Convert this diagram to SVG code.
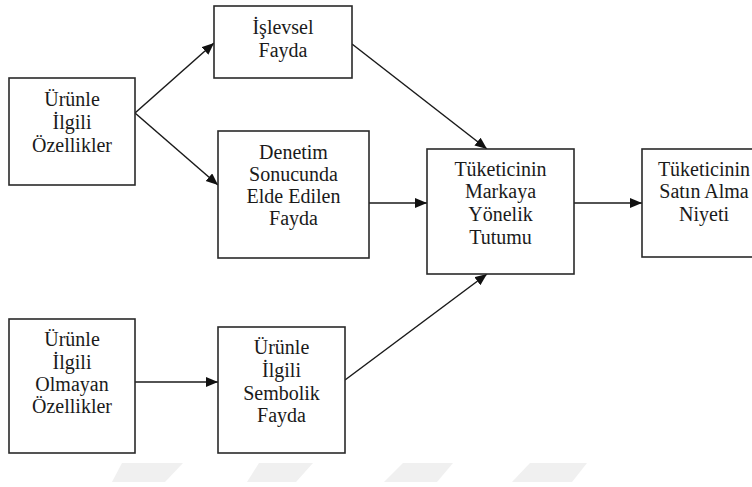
<svg xmlns="http://www.w3.org/2000/svg" width="752" height="487" viewBox="0 0 752 487">
  <defs>
    <marker id="arrow" markerUnits="userSpaceOnUse" markerWidth="14" markerHeight="12" refX="12" refY="5" orient="auto">
      <path d="M0,0 L12,5 L0,10 z" fill="#111"/>
    </marker>
    <style>
      .box { fill: #fff; stroke: #2a2a2a; stroke-width: 1.6; }
      .lbl { font-family: "Liberation Serif", "Times New Roman", serif; font-size: 20px; fill: #1a1a1a; text-anchor: middle; }
      .edge { stroke: #1a1a1a; stroke-width: 1.5; fill: none; marker-end: url(#arrow); }
      .wm { fill: #f0f0f0; }
    </style>
  </defs>
  <rect width="752" height="487" fill="#fff"/>

  <g id="watermark">
    <polygon class="wm" points="122,463 183,463 165,482 112,482"/>
    <polygon class="wm" points="259,463 313,463 296,482 247,482"/>
    <polygon class="wm" points="403,463 453,463 437,482 384,482"/>
    <polygon class="wm" points="530,463 587,463 572,482 512,482"/>
  </g>

  <g id="connectors">
    <line class="edge" x1="135" y1="113" x2="214" y2="43"/>
    <line class="edge" x1="135" y1="113" x2="218" y2="185"/>
    <line class="edge" x1="352" y1="44" x2="487" y2="149"/>
    <line class="edge" x1="369" y1="203" x2="427" y2="203"/>
    <line class="edge" x1="574" y1="203" x2="642" y2="203"/>
    <line class="edge" x1="135" y1="382" x2="218" y2="382"/>
    <line class="edge" x1="345" y1="380" x2="487" y2="274"/>
  </g>

  <g id="urunle-ilgili">
    <rect class="box" x="9" y="78" width="126" height="107"/>
    <text class="lbl" x="72" y="106">Ürünle</text>
    <text class="lbl" x="72" y="129">İlgili</text>
    <text class="lbl" x="72" y="152">Özellikler</text>
  </g>

  <g id="islevsel">
    <rect class="box" x="214" y="6" width="138" height="72"/>
    <text class="lbl" x="283" y="34">İşlevsel</text>
    <text class="lbl" x="283" y="57">Fayda</text>
  </g>

  <g id="denetim">
    <rect class="box" x="218" y="131" width="151" height="127"/>
    <text class="lbl" x="293.5" y="159">Denetim</text>
    <text class="lbl" x="293.5" y="181">Sonucunda</text>
    <text class="lbl" x="293.5" y="203">Elde Edilen</text>
    <text class="lbl" x="293.5" y="225">Fayda</text>
  </g>

  <g id="tutum">
    <rect class="box" x="427" y="149" width="147" height="125"/>
    <text class="lbl" x="500.5" y="176">Tüketicinin</text>
    <text class="lbl" x="500.5" y="198">Markaya</text>
    <text class="lbl" x="500.5" y="221">Yönelik</text>
    <text class="lbl" x="500.5" y="244">Tutumu</text>
  </g>

  <g id="niyet">
    <rect class="box" x="642" y="149" width="124" height="108"/>
    <text class="lbl" x="704" y="176">Tüketicinin</text>
    <text class="lbl" x="704" y="198">Satın Alma</text>
    <text class="lbl" x="704" y="221">Niyeti</text>
  </g>

  <g id="urunle-ilgili-olmayan">
    <rect class="box" x="9" y="319" width="126" height="134"/>
    <text class="lbl" x="72" y="346">Ürünle</text>
    <text class="lbl" x="72" y="369">İlgili</text>
    <text class="lbl" x="72" y="391">Olmayan</text>
    <text class="lbl" x="72" y="413">Özellikler</text>
  </g>

  <g id="sembolik">
    <rect class="box" x="218" y="327" width="127" height="126"/>
    <text class="lbl" x="281.5" y="354">Ürünle</text>
    <text class="lbl" x="281.5" y="377">İlgili</text>
    <text class="lbl" x="281.5" y="400">Sembolik</text>
    <text class="lbl" x="281.5" y="422">Fayda</text>
  </g>
</svg>
